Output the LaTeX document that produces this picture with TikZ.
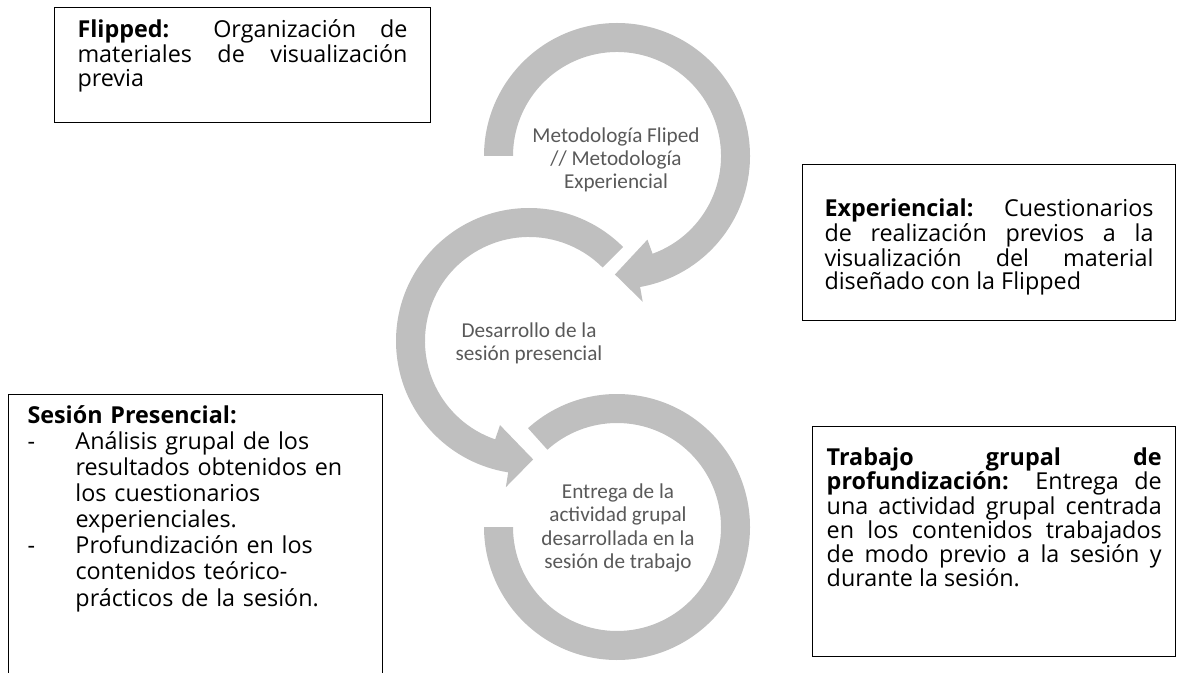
\documentclass[tikz,border=0pt]{standalone}
\usepackage{fontspec}
\setmainfont{Open Sans}
\newfontfamily\cyclefont{Carlito}
\usetikzlibrary{calc}
\definecolor{bandgray}{HTML}{BFBFBF}
\definecolor{labelgray}{HTML}{595959}
\newcommand{\dashitem}{\makebox[36pt][l]{-}}
\newcommand{\dashgap}{\hspace*{36pt}}
\tikzset{
  band/.style={fill=bandgray},
  cyclelbl/.style={align=center, text=labelgray,
                   font=\cyclefont\fontsize{15.9}{17.4}\selectfont},
  infobox/.style={draw=black, line width=0.75pt, anchor=north west,
                  inner ysep=0pt, align=justify,
                  execute at begin node={\hyphenpenalty=10000\exhyphenpenalty=10000}},
}

\begin{document}
\begin{tikzpicture}[x=0.75pt, y=0.75pt]
  \useasboundingbox (0,0) rectangle (1177,-673);

  % centres of the three circular arrows
  \coordinate (ctop) at (617,-156);
  \coordinate (cmid) at (529,-341);
  \coordinate (cbot) at (617,-527);

  % circular arrows
  \fill[band] ($(ctop)+(180:133)$) arc[start angle=180, end angle=-80, radius=133]
    -- ($(ctop)+(-80:148)$) -- ($(ctop)+(-91:118.5)$) -- ($(ctop)+(-70:89)$)
    -- ($(ctop)+(-70:104)$) arc[start angle=-70, end angle=180, radius=104] -- cycle;
  \fill[band] ($(cmid)+(45:133)$) arc[start angle=45, end angle=261, radius=133]
    -- ($(cmid)+(261:148)$) -- ($(cmid)+(272:118.5)$) -- ($(cmid)+(251:89)$)
    -- ($(cmid)+(251:104)$) arc[start angle=251, end angle=45, radius=104] -- cycle;
  \fill[band] ($(cbot)+(132:133)$) arc[start angle=132, end angle=-180, radius=133]
    -- ($(cbot)+(180:104)$) arc[start angle=-180, end angle=132, radius=104] -- cycle;

  \node[cyclelbl] (ttop) at (616,-160) {Metodología Fliped\\// Metodología\\Experiencial};
  \node[cyclelbl] (tmid) at (529,-343) {Desarrollo de la\\sesión presencial};
  \node[cyclelbl] (tbot) at (618,-528) {Entrega de la\\actividad grupal\\desarrollada en la\\sesión de trabajo};

  % text boxes
  \node[infobox, minimum width=282pt, text width=247.5pt,
        text height=22.75pt, text depth=63.5pt,
        font=\fontsize{17.5}{18.3}\selectfont] (flipped) at (54,-7)
    {\textbf{Flipped:} Organización de\linebreak
     materiales de visualización\linebreak
     previa};
  \node[infobox, minimum width=279.75pt, text width=246.75pt,
        text height=39pt, text depth=78pt,
        font=\fontsize{17.5}{17.6}\selectfont] (exper) at (802,-164)
    {\textbf{Experiencial:} Cuestionarios\linebreak
     de realización previos a la\linebreak
     visualización del material\linebreak
     diseñado con la Flipped};
  \node[infobox, minimum width=272.6pt, text width=251.25pt,
        text height=29.25pt, text depth=143.25pt,
        font=\fontsize{17.5}{18.2}\selectfont] (trabajo) at (812,-426)
    {\textbf{Trabajo grupal de}\linebreak
     \textbf{profundización:} Entrega de\linebreak
     una actividad grupal centrada\linebreak
     en los contenidos trabajados\linebreak
     de modo previo a la sesión y\linebreak
     durante la sesión.};
  \node[infobox, align=left, inner xsep=14.25pt, text width=252pt,
        text height=21.5pt, text depth=200pt,
        font=\fontsize{17.5}{19.6}\selectfont] (sesion) at (8,-394)
    {\textbf{Sesión Presencial:}\\
     \dashitem Análisis grupal de los\\
     \dashgap resultados obtenidos en\\
     \dashgap los cuestionarios\\
     \dashgap experienciales.\\
     \dashitem Profundización en los\\
     \dashgap contenidos teórico-\\
     \dashgap prácticos de la sesión.};
\end{tikzpicture}
\end{document}
